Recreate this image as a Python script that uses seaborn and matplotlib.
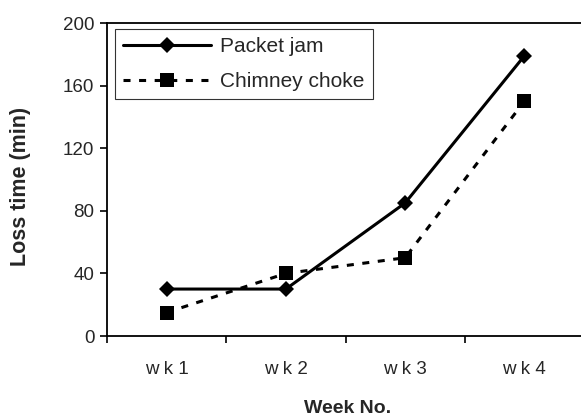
import matplotlib
matplotlib.use("Agg")
import matplotlib.pyplot as plt
import seaborn as sns
import pandas as pd

# data
weeks = ["w k 1", "w k 2", "w k 3", "w k 4"]
packet_jam = [30, 30, 85, 179]
chimney_choke = [15, 40, 50, 150]

df = pd.DataFrame({
    "week": weeks * 2,
    "loss": packet_jam + chimney_choke,
    "series": ["Packet jam"] * 4 + ["Chimney choke"] * 4,
})

sns.set_style("white")
plt.rcParams["font.family"] = ["Liberation Sans", "DejaVu Sans"]

fig = plt.figure(figsize=(5.81, 4.19), dpi=100)
ax = fig.add_axes([107 / 581, 83 / 419, 477 / 581, 313 / 419])

sns.lineplot(data=df, x="week", y="loss", hue="series", style="series",
             markers={"Packet jam": "D", "Chimney choke": "s"},
             dashes={"Packet jam": "", "Chimney choke": (2.3, 2.8)},
             palette={"Packet jam": "black", "Chimney choke": "black"},
             linewidth=2.2, markersize=8, markeredgewidth=0,
             sort=False, ax=ax)
# diamond a bit smaller than square
for ln in ax.get_lines():
    if ln.get_marker() == "D":
        ln.set_markersize(8)
    elif ln.get_marker() == "s":
        ln.set_markersize(10)

ax.set_xlim(-0.5, 3.5)
ax.set_ylim(0, 200)
ax.set_yticks([0, 40, 80, 120, 160, 200])
ax.set_xticks([-0.5, 0.5, 1.5, 2.5, 3.5])
ax.set_xticklabels([])
ax.set_xticks(range(4), minor=True)
ax.set_xticklabels(weeks, minor=True)
ax.tick_params(axis="x", which="major", direction="out", length=5, width=1.2, color="black", bottom=True)
ax.tick_params(axis="x", which="minor", length=0, pad=18, labelsize=13.5)
ax.tick_params(axis="y", direction="out", length=5, width=1.2, color="black", left=True, labelsize=13.5, pad=4)

for s in ["left", "bottom", "top"]:
    ax.spines[s].set_color("black")
    ax.spines[s].set_linewidth(1.3)
ax.spines["right"].set_visible(False)

ax.set_xlabel("Week No.", fontsize=14, fontweight="bold")
ax.xaxis.set_label_coords(0.505, -0.206)
ax.set_ylabel("Loss time (min)", fontsize=15.5, fontweight="bold")
ax.yaxis.set_label_coords(-0.16, 0.479)

handles, labels = ax.get_legend_handles_labels()
leg = ax.legend(handles, labels, loc="upper left", bbox_to_anchor=(0.017, 0.981),
                fontsize=15, frameon=True, fancybox=False, edgecolor="black",
                handlelength=4.2, handletextpad=0.45, borderpad=0.4,
                labelspacing=0.75, borderaxespad=0)
leg.get_frame().set_linewidth(0.8)

fig.savefig("out.png", dpi=100)
